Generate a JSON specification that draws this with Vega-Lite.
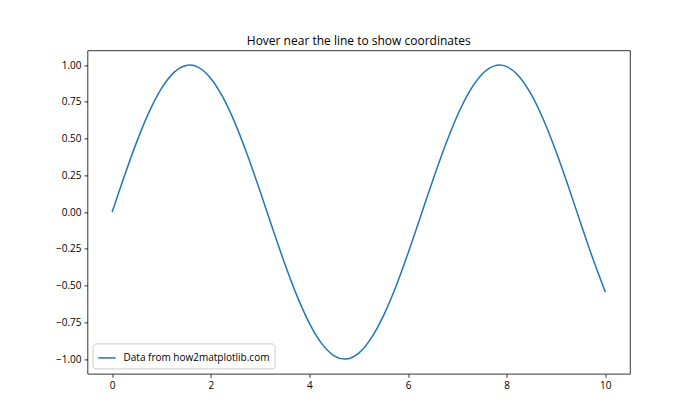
{
  "$schema": "https://vega.github.io/schema/vega-lite/v6.json",
  "width": 542.5,
  "height": 323.4,
  "autosize": "none",
  "padding": {"left": 87.5, "top": 50.4, "right": 70, "bottom": 46.2},
  "background": "white",
  "config": {
    "font": "Open Sans",
    "view": {"stroke": "black", "strokeWidth": 0.8},
    "axis": {"grid": false, "domain": false, "tickColor": "black", "tickSize": 3.5, "tickWidth": 0.8, "labelColor": "black", "labelFontSize": 10, "labelFont": "Open Sans", "labelPadding": 3, "title": null}
  },
  "title": {"text": "Hover near the line to show coordinates", "fontSize": 12, "fontWeight": "normal", "font": "Open Sans", "color": "black", "anchor": "middle", "offset": 2},
  "data": {"values": [
    {"x": 0, "y": 0, "series": "Data from how2matplotlib.com"},
    {"x": 0.25, "y": 0.2474, "series": "Data from how2matplotlib.com"},
    {"x": 0.5, "y": 0.4794, "series": "Data from how2matplotlib.com"},
    {"x": 0.75, "y": 0.6816, "series": "Data from how2matplotlib.com"},
    {"x": 1.0, "y": 0.8415, "series": "Data from how2matplotlib.com"},
    {"x": 1.25, "y": 0.949, "series": "Data from how2matplotlib.com"},
    {"x": 1.5, "y": 0.9975, "series": "Data from how2matplotlib.com"},
    {"x": 1.5708, "y": 1.0, "series": "Data from how2matplotlib.com"},
    {"x": 1.75, "y": 0.984, "series": "Data from how2matplotlib.com"},
    {"x": 2.0, "y": 0.9093, "series": "Data from how2matplotlib.com"},
    {"x": 2.25, "y": 0.7781, "series": "Data from how2matplotlib.com"},
    {"x": 2.5, "y": 0.5985, "series": "Data from how2matplotlib.com"},
    {"x": 2.75, "y": 0.3817, "series": "Data from how2matplotlib.com"},
    {"x": 3.0, "y": 0.1411, "series": "Data from how2matplotlib.com"},
    {"x": 3.25, "y": -0.1082, "series": "Data from how2matplotlib.com"},
    {"x": 3.5, "y": -0.3508, "series": "Data from how2matplotlib.com"},
    {"x": 3.75, "y": -0.5716, "series": "Data from how2matplotlib.com"},
    {"x": 4.0, "y": -0.7568, "series": "Data from how2matplotlib.com"},
    {"x": 4.25, "y": -0.895, "series": "Data from how2matplotlib.com"},
    {"x": 4.5, "y": -0.9775, "series": "Data from how2matplotlib.com"},
    {"x": 4.7124, "y": -1.0, "series": "Data from how2matplotlib.com"},
    {"x": 4.75, "y": -0.9993, "series": "Data from how2matplotlib.com"},
    {"x": 5.0, "y": -0.9589, "series": "Data from how2matplotlib.com"},
    {"x": 5.25, "y": -0.8589, "series": "Data from how2matplotlib.com"},
    {"x": 5.5, "y": -0.7055, "series": "Data from how2matplotlib.com"},
    {"x": 5.75, "y": -0.51, "series": "Data from how2matplotlib.com"},
    {"x": 6.0, "y": -0.2794, "series": "Data from how2matplotlib.com"},
    {"x": 6.25, "y": -0.0332, "series": "Data from how2matplotlib.com"},
    {"x": 6.5, "y": 0.2151, "series": "Data from how2matplotlib.com"},
    {"x": 6.75, "y": 0.45, "series": "Data from how2matplotlib.com"},
    {"x": 7.0, "y": 0.657, "series": "Data from how2matplotlib.com"},
    {"x": 7.25, "y": 0.8231, "series": "Data from how2matplotlib.com"},
    {"x": 7.5, "y": 0.938, "series": "Data from how2matplotlib.com"},
    {"x": 7.75, "y": 0.9946, "series": "Data from how2matplotlib.com"},
    {"x": 7.854, "y": 1.0, "series": "Data from how2matplotlib.com"},
    {"x": 8.0, "y": 0.9894, "series": "Data from how2matplotlib.com"},
    {"x": 8.25, "y": 0.9228, "series": "Data from how2matplotlib.com"},
    {"x": 8.5, "y": 0.7985, "series": "Data from how2matplotlib.com"},
    {"x": 8.75, "y": 0.6247, "series": "Data from how2matplotlib.com"},
    {"x": 9.0, "y": 0.4121, "series": "Data from how2matplotlib.com"},
    {"x": 9.25, "y": 0.1743, "series": "Data from how2matplotlib.com"},
    {"x": 9.5, "y": -0.0752, "series": "Data from how2matplotlib.com"},
    {"x": 9.75, "y": -0.3195, "series": "Data from how2matplotlib.com"},
    {"x": 10.0, "y": -0.544, "series": "Data from how2matplotlib.com"}
  ]},
  "mark": {"type": "line", "strokeWidth": 1.5, "interpolate": "monotone"},
  "encoding": {
    "x": {"field": "x", "type": "quantitative", "scale": {"domain": [-0.5, 10.5], "nice": false, "zero": false}, "axis": {"values": [0, 2, 4, 6, 8, 10], "format": "d"}},
    "y": {"field": "y", "type": "quantitative", "scale": {"domain": [-1.1, 1.1], "nice": false, "zero": false}, "axis": {"values": [-1, -0.75, -0.5, -0.25, 0, 0.25, 0.5, 0.75, 1], "format": ".2f"}},
    "color": {"field": "series", "type": "nominal", "scale": {"range": ["#1f77b4"]}, "legend": {"title": null, "orient": "bottom-left", "offset": 5, "symbolType": "stroke", "symbolSize": 300, "symbolStrokeWidth": 1.5, "labelFontSize": 10, "labelFont": "Open Sans", "labelColor": "black", "labelOffset": 7, "fillColor": "white", "strokeColor": "#cccccc", "padding": 5, "cornerRadius": 3}}
  }
}
